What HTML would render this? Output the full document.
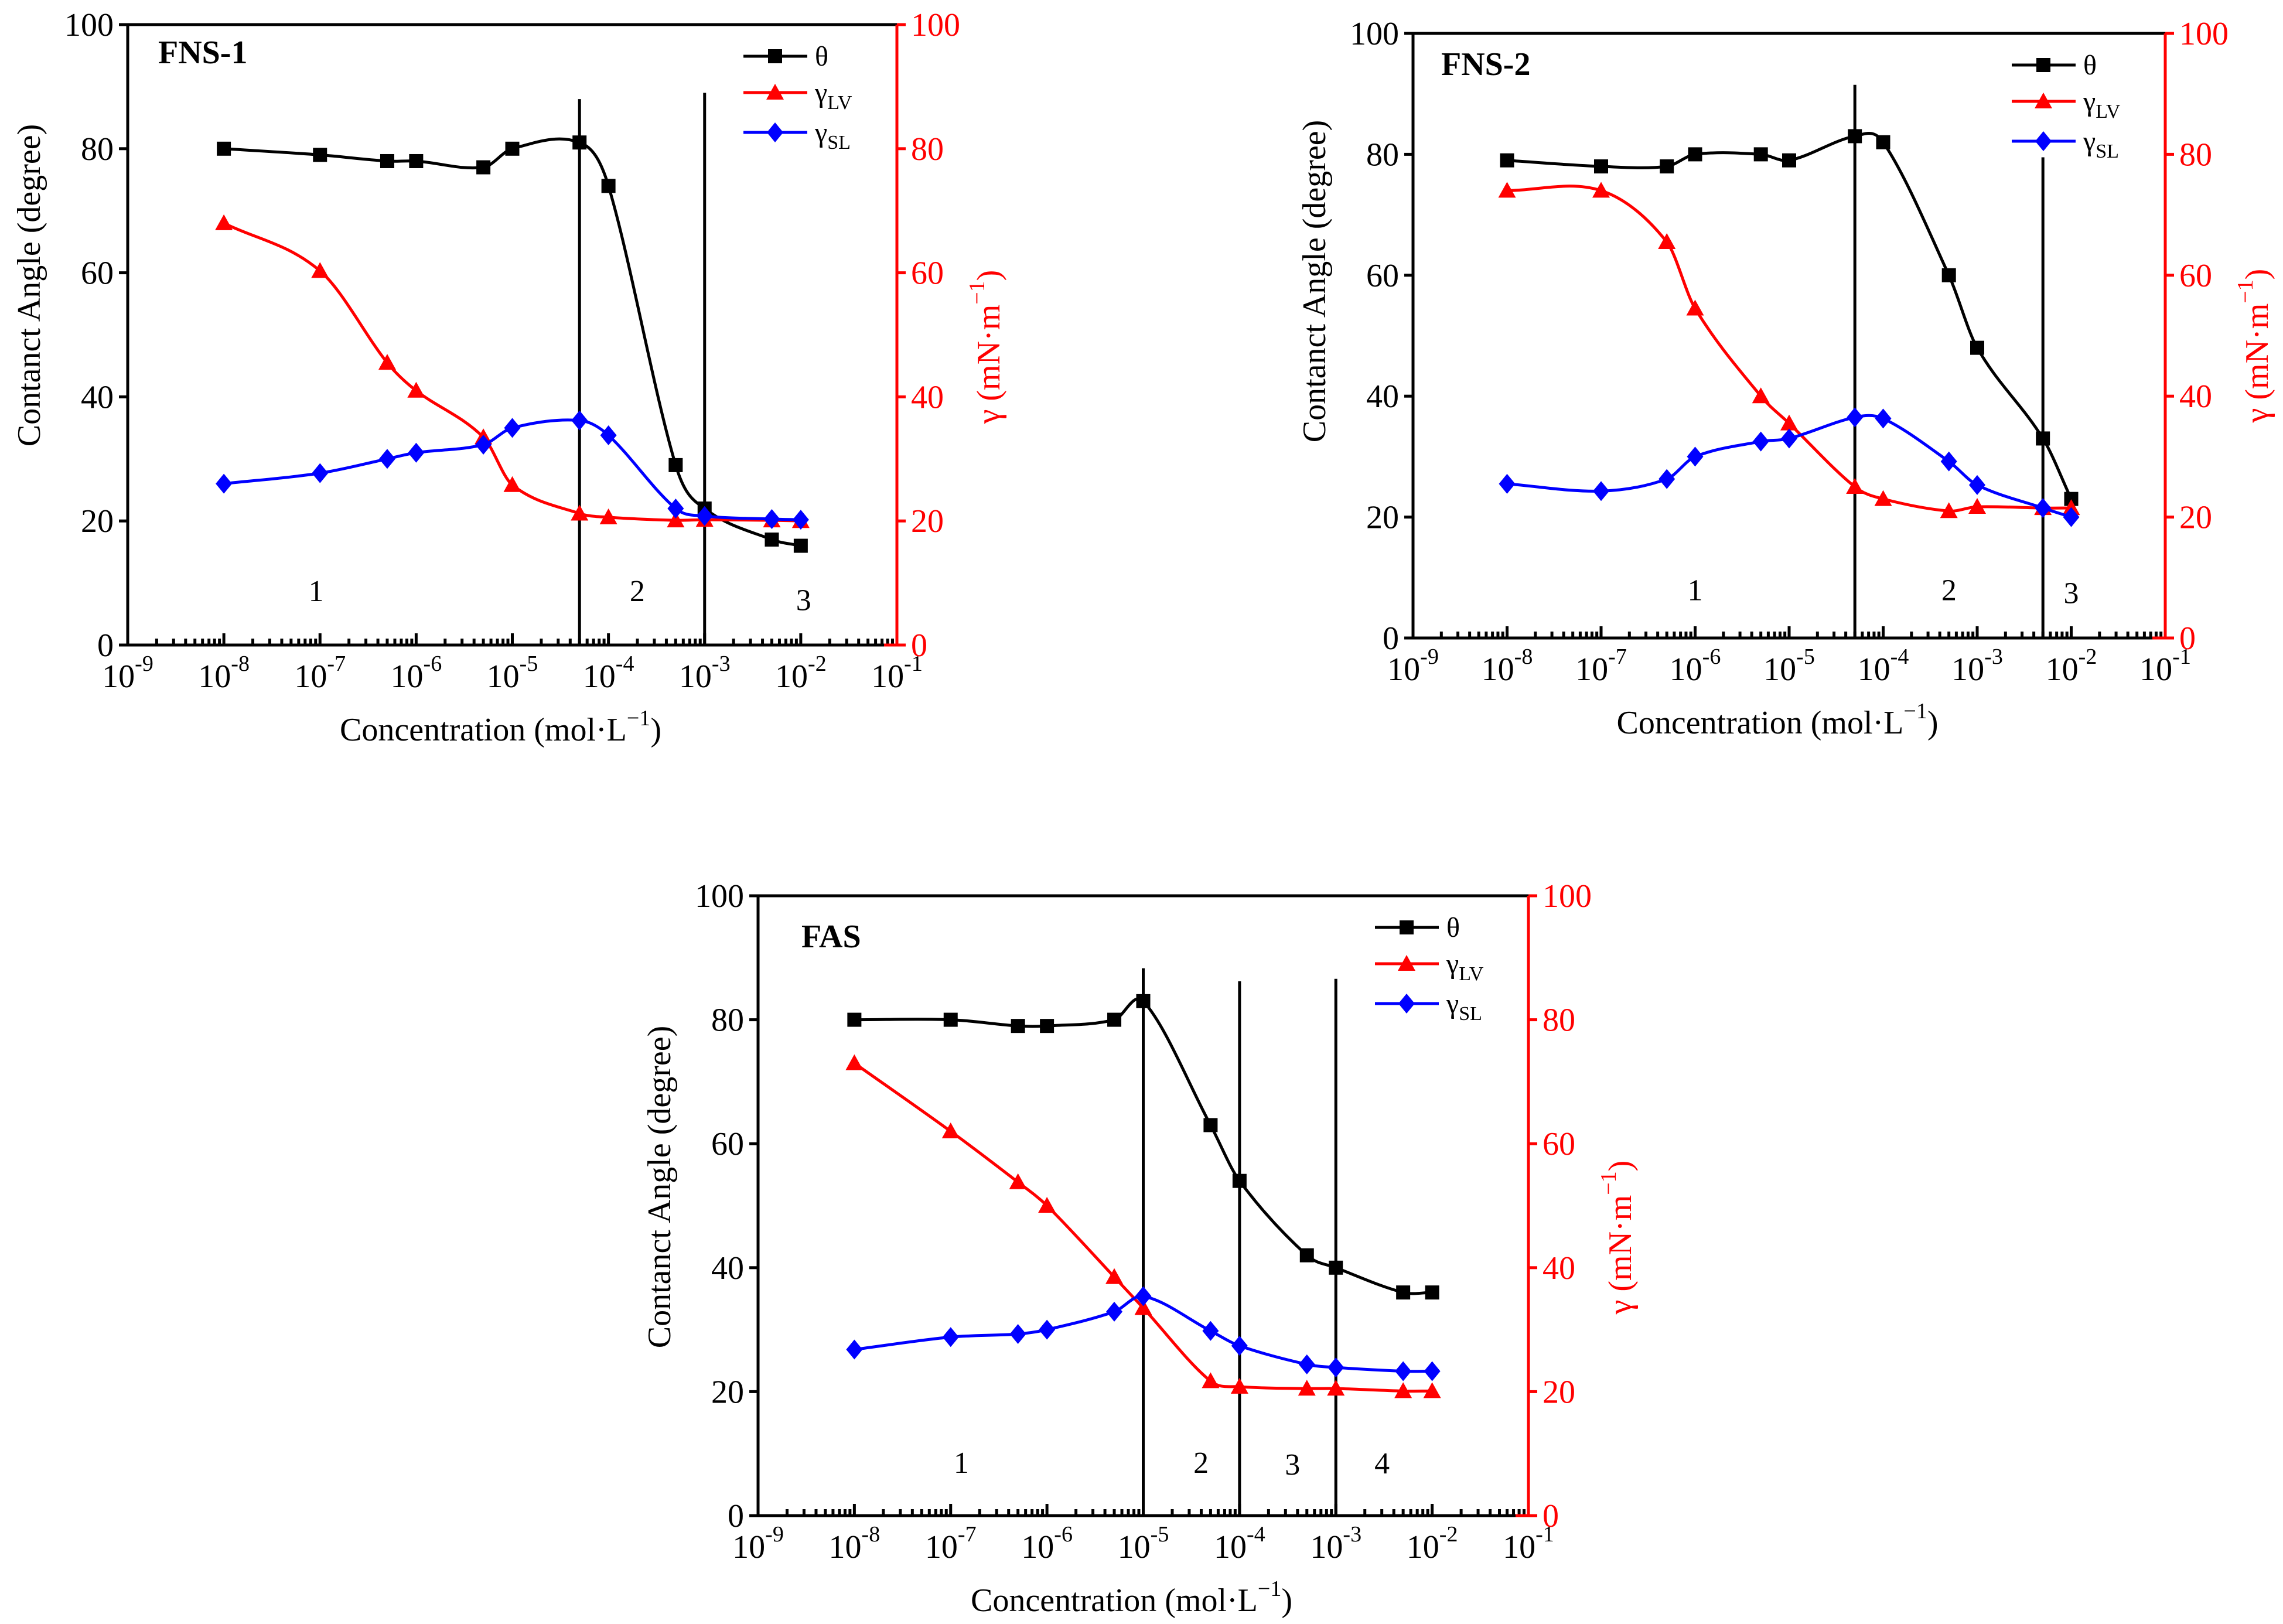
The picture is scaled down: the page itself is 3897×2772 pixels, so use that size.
<!DOCTYPE html>
<html><head><meta charset="utf-8"><style>
html,body{margin:0;padding:0;background:#fff;}
svg{display:block;font-family:"Liberation Serif",serif;}
</style></head><body>
<svg id="root" width="3897" height="2772" viewBox="0 0 3897 2772" xmlns="http://www.w3.org/2000/svg"></svg>
<script>
// log10 concentrations shared by all panels
const concLog = [-8,-7,-6.301,-6,-5.301,-5,-4.301,-4,-3.301,-3,-2.301,-2];
const xTickExp = [-9,-8,-7,-6,-5,-4,-3,-2,-1];
const yTicks = [0,20,40,60,80,100];

const fns1Theta = [80,79,78,78,77,80,81,74,29,22,17,16];
const fns1LV = [68,60.3,45.5,41,33.5,25.8,21.2,20.6,20.1,20.2,20.1,20];
const fns1SL = [26,27.7,30,31,32.3,35,36.2,33.8,22,20.8,20.3,20.2];
const fns1VLines = [[-4.301,88],[-3,89]];
const fns1Regions = [["1",-7.04,8.8],["2",-3.7,8.8],["3",-1.97,7.3]];

const fns2Theta = [79,78,78,80,80,79,83,82,60,48,33,23];
const fns2LV = [74,74,65.5,54.5,40,35.5,25,23,21,21.7,21.5,21.5];
const fns2SL = [25.5,24.3,26.3,30,32.5,33,36.5,36.3,29.2,25.3,21.5,20];
const fns2VLines = [[-4.301,91.5],[-2.301,79.5]];
const fns2Regions = [["1",-6,8],["2",-3.3,8],["3",-2,7.5]];

const fasTheta = [80,80,79,79,80,83,63,54,42,40,36,36];
const fasLV = [73,62,53.8,50,38.5,33.5,21.7,20.8,20.5,20.5,20.1,20.1];
const fasSL = [26.8,28.8,29.3,30,32.9,35.4,29.8,27.4,24.4,23.9,23.3,23.3];
const fasVLines = [[-5,88.3],[-4,86.2],[-3,86.6]];
const fasRegions = [["1",-6.89,8.6],["2",-4.4,8.6],["3",-3.45,8.3],["4",-2.52,8.5]];

const NS="http://www.w3.org/2000/svg";
const root=document.getElementById('root');
function mk(tag,attrs,parent){const e=document.createElementNS(NS,tag);for(const k in attrs)e.setAttribute(k,attrs[k]);(parent||root).appendChild(e);return e;}

// Hermite spline with slopes from neighbour differences (handles uneven x spacing)
function smoothPath(pts){
  const n=pts.length, m=[];
  for(let i=0;i<n;i++){
    if(i===0) m.push((pts[1][1]-pts[0][1])/(pts[1][0]-pts[0][0]));
    else if(i===n-1) m.push((pts[n-1][1]-pts[n-2][1])/(pts[n-1][0]-pts[n-2][0]));
    else m.push((pts[i+1][1]-pts[i-1][1])/(pts[i+1][0]-pts[i-1][0]));
  }
  let d=`M${pts[0][0]},${pts[0][1]}`;
  for(let i=0;i<n-1;i++){
    const dx=(pts[i+1][0]-pts[i][0])/3;
    d+=` C${pts[i][0]+dx},${pts[i][1]+m[i]*dx} ${pts[i+1][0]-dx},${pts[i+1][1]-m[i+1]*dx} ${pts[i+1][0]},${pts[i+1][1]}`;
  }
  return d;
}
function marker(g,type,x,y,color){
  let e;
  if(type==='sq'){e=mk('rect',{x:x-12,y:y-12,width:24,height:24,fill:color},g);}
  else if(type==='tri'){e=mk('polygon',{points:`${x},${y-15} ${x+15},${y+12} ${x-15},${y+12}`,fill:color},g);}
  else {e=mk('polygon',{points:`${x},${y-17} ${x+14},${y} ${x},${y+17} ${x-14},${y}`,fill:color},g);}
  
  
}

function chart(cfg){
  const {L,R,T,B,name,theta,lv,sl,vlines,regions,prefix}=cfg;
  const g=mk('g',{});
  
  
  const xs=v=>L+(v+9)/8*(R-L);
  const ys=v=>B-v/100*(B-T);
  for(let d=-9;d<-1;d++){
    for(let m=2;m<=9;m++){
      const x=xs(d+Math.log10(m));
      const t=mk('line',{x1:x,x2:x,y1:B,y2:B-11,stroke:'#000','stroke-width':5},g);
      
      
    }
  }
  xTickExp.forEach(e=>{
    const x=xs(e);
    const t=mk('line',{x1:x,x2:x,y1:B,y2:B-20,stroke:'#000','stroke-width':5},g);
    
    
    const tx=mk('text',{x:x,y:B+72,'font-size':56,'text-anchor':'middle',fill:'#000'},g);
    
    
    tx.innerHTML=`10<tspan dy="-28" font-size="38">${e}</tspan>`;
  });
  yTicks.forEach(v=>{
    const y=ys(v);
    const a=mk('line',{x1:L,x2:L-15,y1:y,y2:y,stroke:'#000','stroke-width':5},g);
    
    
    const b=mk('line',{x1:R,x2:R+15,y1:y,y2:y,stroke:'#f00','stroke-width':5},g);
    
    
    const t1=mk('text',{x:L-24,y:y+19,'font-size':56,'text-anchor':'end',fill:'#000'},g);
    
    
    t1.textContent=v;
    const t2=mk('text',{x:R+24,y:y+19,'font-size':56,'text-anchor':'start',fill:'#f00'},g);
    
    
    t2.textContent=v;
  });
  const ax=mk('path',{d:`M${L},${B} L${L},${T} L${R},${T}`,fill:'none',stroke:'#000','stroke-width':5},g);
  
  
  const xa=mk('line',{x1:L,x2:R-20,y1:B,y2:B,stroke:'#000','stroke-width':5},g);
  
  
  const ra=mk('path',{d:`M${R-22},${B} L${R},${B} L${R},${T}`,fill:'none',stroke:'#f00','stroke-width':5},g);
  
  
  vlines.forEach(([lx,top])=>{
    const l=mk('line',{x1:xs(lx),x2:xs(lx),y1:ys(top),y2:B,stroke:'#000','stroke-width':5},g);
    
    
  });
  regions.forEach(([t,lx,v])=>{
    const tx=mk('text',{x:xs(lx),y:ys(v)+18,'font-size':52,'text-anchor':'middle',fill:'#000'},g);
    
    
    tx.textContent=t;
  });
  const series=[[theta,'#000','sq','theta'],[lv,'#f00','tri','gamma-lv'],[sl,'#00f','dia','gamma-sl']];
  series.forEach(([vals,col,mt,nm])=>{
    const pts=vals.map((v,i)=>[xs(concLog[i]),ys(v)]);
    const p=mk('path',{d:smoothPath(pts),fill:'none',stroke:col,'stroke-width':5},g);
    
    
    pts.forEach(([x,y])=>marker(g,mt,x,y,col));
  });
  const ti=mk('text',{x:L+cfg.tx,y:T+cfg.ty,'font-size':56,'font-weight':'bold',fill:'#000'},g);
  
  
  ti.textContent=name;
  const lg=mk('g',{},g);
  
  
  const entries=[['θ','','#000','sq'],['γ','LV','#f00','tri'],['γ','SL','#00f','dia']];
  const offs=[54,116,184];
  entries.forEach(([s,sub,col,mt],i)=>{
    const y=T+offs[i];
    const l=mk('line',{x1:R-262,x2:R-153,y1:y,y2:y,stroke:col,'stroke-width':5},lg);
    
    
    marker(lg,mt,R-208,y,col);
    const t=mk('text',{x:R-140,y:y+16,'font-size':48,fill:'#000'},lg);
    
    
    t.innerHTML=sub?`${s}<tspan dy="12" font-size="34">${sub}</tspan>`:s;
  });
  const xt=mk('text',{x:(L+R)/2-20,y:B+163,'font-size':56,'text-anchor':'middle',fill:'#000'},g);
  
  
  xt.innerHTML='Concentration (mol·L<tspan dy="-26" font-size="38">−1</tspan><tspan dy="26">)</tspan>';
  const yl=mk('text',{x:0,y:0,'font-size':56,'text-anchor':'middle',fill:'#000',transform:`translate(${L-150},${cfg.ylc}) rotate(-90)`},g);
  
  
  yl.textContent='Contanct Angle (degree)';
  const yr=mk('text',{x:0,y:0,'font-size':56,'text-anchor':'middle',fill:'#f00',transform:`translate(${R+175},${cfg.yrc}) rotate(-90)`},g);
  
  
  yr.innerHTML='γ (mN·m<tspan dy="-26" font-size="38">−1</tspan><tspan dy="26">)</tspan>';
}

chart({prefix:'fns-1',name:'FNS-1',L:218,R:1531,T:42,B:1101,theta:fns1Theta,lv:fns1LV,sl:fns1SL,vlines:fns1VLines,regions:fns1Regions,tx:52,ty:66,ylc:487,yrc:592});
chart({prefix:'fns-2',name:'FNS-2',L:2412,R:3696,T:57,B:1089,theta:fns2Theta,lv:fns2LV,sl:fns2SL,vlines:fns2VLines,regions:fns2Regions,tx:48,ty:71,ylc:480,yrc:590});
chart({prefix:'fas',name:'FAS',L:1294,R:2609,T:1529,B:2587,theta:fasTheta,lv:fasLV,sl:fasSL,vlines:fasVLines,regions:fasRegions,tx:74,ty:88,ylc:2026,yrc:2112});
</script>
</body></html>
